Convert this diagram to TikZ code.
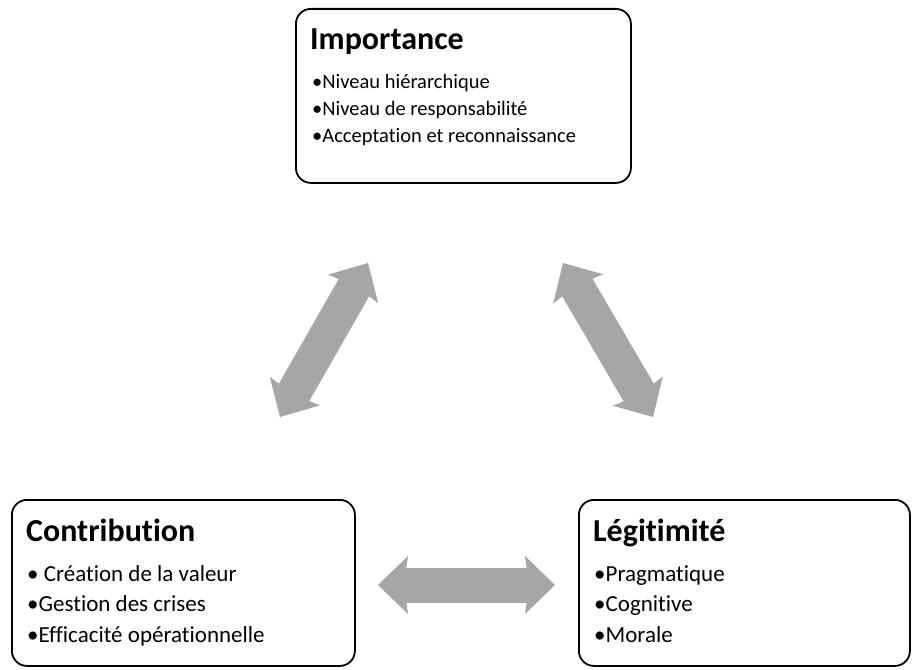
\documentclass[tikz,border=0pt]{standalone}
\usepackage{fontspec}
\setmainfont{Carlito}[Ligatures=NoCommon]
\usetikzlibrary{positioning,arrows.meta}

\definecolor{grisfleche}{HTML}{A6A6A6}

\tikzset{
  boite/.style={draw=black, line width=1.8pt, rounded corners=15pt, inner sep=0pt, anchor=north west},
  titre/.style={font=\fontsize{32}{38}\selectfont\bfseries, anchor=base west, inner sep=0pt},
  puce/.style={font=\fontsize{20.5}{25}\selectfont, anchor=base west, inner sep=0pt},
  pucebas/.style={font=\fontsize{23}{28}\selectfont, anchor=base west, inner sep=0pt},
  pointe/.tip={Stealth[length=30pt, width=58pt, inset=4pt, line width=0pt]},
  fleche/.style={draw=grisfleche, line width=35pt, pointe-pointe}
}

\begin{document}
\begin{tikzpicture}[x=1pt,y=-1pt]
\useasboundingbox (0,0) rectangle (912,669);

%% cadres
\node[boite, minimum width=335pt, minimum height=174pt] (imp) at (295,8) {};
\node[boite, minimum width=343pt, minimum height=166pt] (con) at (11,499) {};
\node[boite, minimum width=331pt, minimum height=166pt] (leg) at (578,499) {};

%% Importance
\node[titre] (impT) at (310,50) {Importance};
\node[puce] (imp1) at (312,88) {•Niveau hiérarchique};
\node[puce] (imp2) at (312,115) {•Niveau de responsabilité};
\node[puce] (imp3) at (312,142) {•Acceptation et reconnaissance};

%% Contribution
\node[titre] (conT) at (26,541) {Contribution};
\node[pucebas] (con1) at (27,581) {• Création de la valeur};
\node[pucebas] (con2) at (27,611) {•Gestion des crises};
\node[pucebas] (con3) at (27,642) {•Efficacité opérationnelle};

%% Légitimité
\node[titre] (legT) at (593,541) {Légitimité};
\node[pucebas] (leg1) at (594,581) {•Pragmatique};
\node[pucebas] (leg2) at (594,611) {•Cognitive};
\node[pucebas] (leg3) at (594,642) {•Morale};

%% fleches
\coordinate (fh1) at (368,263);
\coordinate (fb1) at (280,417);
\coordinate (fh2) at (563,263);
\coordinate (fb2) at (653,417);
\coordinate (fg3) at (378,585);
\coordinate (fd3) at (555,585);

\draw[fleche] (fh1) -- (fb1);
\draw[fleche] (fh2) -- (fb2);
\draw[fleche] (fg3) -- (fd3);

\end{tikzpicture}
\end{document}
